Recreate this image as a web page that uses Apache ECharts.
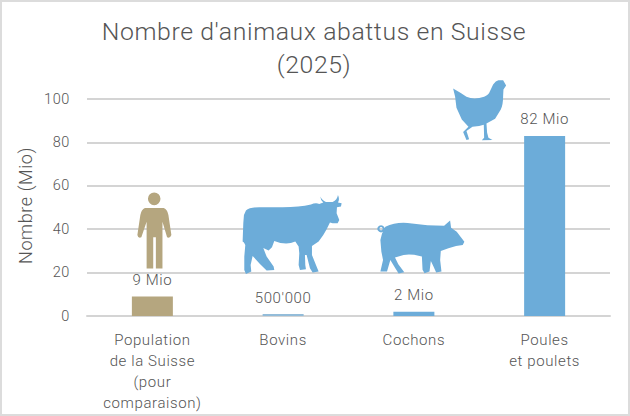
<!DOCTYPE html>
<html><head><meta charset="utf-8">
<script src="https://cdn.jsdelivr.net/npm/echarts@6/dist/echarts.min.js"></script>
<style>html,body{margin:0;padding:0;background:#fff}#c{width:630px;height:416px}#c svg text{letter-spacing:.6px}</style>
</head><body><div id="c"></div>
<script>
const categories = ['Population\nde la Suisse\n(pour\ncomparaison)', 'Bovins', 'Cochons', 'Poules\net poulets'];
const values = [9, 0.5, 2, 83];
const valueLabels = ['9 Mio', "500'000", '2 Mio', '82 Mio'];
const yTicks = [0, 20, 40, 60, 80, 100];
const barColors = ['#b5a67f', '#93bcd9', '#6cacd9', '#6cacd9'];

const personPath = 'path://M463 38a19 19 0 1 1 0 38a19 19 0 1 1 0-38zM435 84L492 84Q503 88 506 105L515 165Q511 176 502 172L488 125L488 265L468 265L468 172L460 172L460 265L440 265L440 125L424 172Q414 176 412 165L421 105Q424 88 435 84z';
const cowPath = 'path://M30 62Q40 52 70 52L140 52Q190 52 225 44Q238 38 250 42L262 38Q254 32 253 20Q258 32 270 36L290 36Q304 30 306 15Q312 28 306 38L317 40L315 50L303 52L302 70L310 90L305 100L290 100L282 98L272 118L262 135L248 155L228 168L228 195L240 225L248 245L230 248L222 235L212 195L207 195L208 225L210 238L192 240L188 225L190 190L188 170L178 155Q150 168 115 153L108 172L98 182L90 178L82 174L92 200L113 230L115 240L92 242L72 222L50 198L44 225L46 245L30 252L25 240L25 200L28 165L24 158L20 155L22 100L24 75z';
const pigPath = 'path://M32 30a11 11 0 1 1-.1 0zM32 36a5 5 0 1 0 .1 0zM45 35Q80 18 125 25Q170 32 222 32L240 16L243 38L260 50L283 80L278 90L258 93L235 100L212 108L210 135L214 170L198 173L190 155L182 138L178 170L163 175L157 165L155 125Q125 116 100 120L74 128L84 148L102 172L85 176L75 160L60 135L50 170L30 170L38 135L33 110L30 75L35 55z';
const henPath = 'path://M22 37L45 50L62 62Q85 72 115 62Q128 55 130 50L142 25Q150 13 158 12L172 12L181 28L173 40L172 60Q172 85 165 100L148 128L122 142L124 170L128 185L140 192L108 193L115 185L114 146L100 150L80 152L62 165L70 190L62 192L52 168L68 152L48 130L32 95L28 62z';

const chart = echarts.init(document.getElementById('c'), null, {renderer: 'svg'});
const font = 'Roboto';
chart.setOption({
  animation: false,
  backgroundColor: '#fff',
  title: {
    text: "Nombre d'animaux abattus en Suisse\n(2025)",
    left: 309, top: 10, textAlign: 'center',
    textStyle: {fontFamily: font, fontWeight: 300, fontSize: 24.8, lineHeight: 33, color: '#555'}
  },
  graphic: [{type: 'rect', silent: true, z: 100, shape: {x: 1, y: 1, width: 628, height: 414},
    style: {fill: 'transparent', stroke: '#dcdcdc', lineWidth: 2}}],
  grid: {left: 87, right: 20, top: 99, bottom: 100},
  xAxis: {
    type: 'category', data: categories,
    axisLine: {lineStyle: {color: '#d4d4d4', width: 2}}, axisTick: {show: false},
    axisLabel: {fontFamily: font, fontWeight: 300, fontSize: 15, lineHeight: 21, color: '#555', margin: 13, interval: 0}
  },
  yAxis: {
    type: 'value', min: yTicks[0], max: yTicks[yTicks.length - 1], interval: 20,
    name: 'Nombre (Mio)', nameLocation: 'middle', nameGap: 47, nameRotate: 90,
    nameTextStyle: {fontFamily: font, fontWeight: 300, fontSize: 18, color: '#555', padding: [0, 0, 0, 4]},
    axisLine: {show: false}, axisTick: {show: false},
    splitLine: {lineStyle: {color: '#d4d4d4', width: 2}},
    axisLabel: {fontFamily: font, fontWeight: 300, fontSize: 14.5, color: '#555', margin: 17}
  },
  series: [
    {type: 'bar', barWidth: 41, barMinHeight: 2, z: 3,
     data: values.map((v, i) => ({value: v, itemStyle: {color: barColors[i]},
       label: {show: true, position: 'top', distance: 9, formatter: valueLabels[i],
         fontFamily: font, fontWeight: 300, fontSize: 15, color: '#555'}}))},
    {type: 'scatter', z: 4, silent: true, symbolKeepAspect: false,
     data: [
       {value: [0, 39.4], symbol: personPath, symbolSize: [34, 76], symbolOffset: [2, 0], itemStyle: {color: '#b5a67f', opacity: 1}},
       {value: [1, 37.6], symbol: cowPath, symbolSize: [99, 79], symbolOffset: [9, 0], itemStyle: {color: '#6cacd9', opacity: 1}},
       {value: [2, 31.8], symbol: pigPath, symbolSize: [87, 53], symbolOffset: [7, 0], itemStyle: {color: '#6cacd9', opacity: 1}},
       {value: [3, 94.8], symbol: henPath, symbolSize: [53, 60], symbolOffset: [-65, 0], itemStyle: {color: '#6cacd9', opacity: 1}}
     ]}
  ]
});
</script></body></html>
